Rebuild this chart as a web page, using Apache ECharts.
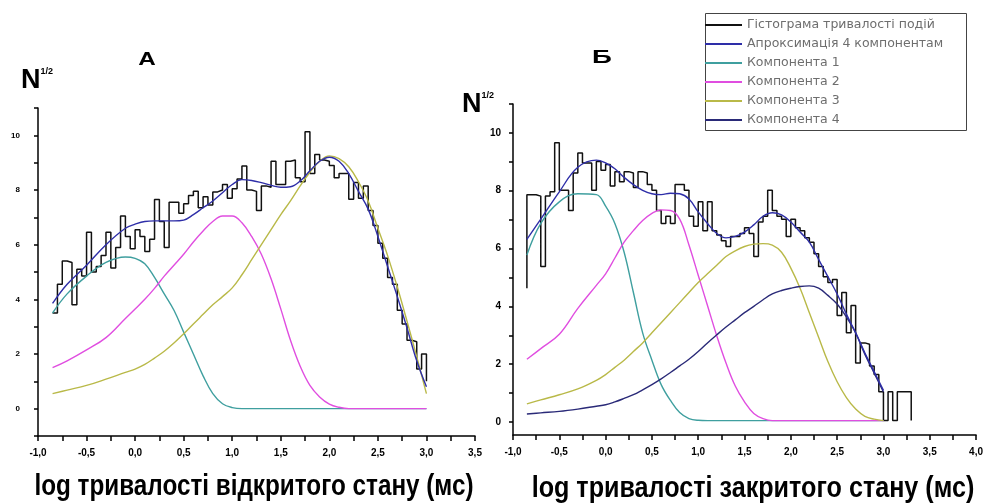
<!DOCTYPE html>
<html>
<head>
<meta charset="utf-8">
<script src="https://cdn.jsdelivr.net/npm/echarts@6/dist/echarts.min.js"></script>
<style>html,body{margin:0;padding:0;background:#fff}#c{width:986px;height:504px}</style>
</head>
<body>
<div id="c"></div>
<script>
// ---------- data ----------
const legendNames = ['Гістограма тривалості подій', 'Апроксимація 4 компонентам', 'Компонента 1', 'Компонента 2', 'Компонента 3', 'Компонента 4'];
const binWidth = 0.05;

// Panel A (open state)
const histA_start = -0.85;
const histA_endLevel = 1.0;
const histA = [3.5,4.55,5.4,5.35,3.8,5.1,4.85,6.45,5.0,5.2,
  5.6,6.45,5.15,5.9,7.05,6.3,5.85,6.55,6.3,5.75,
  6.2,7.65,6.85,5.9,7.55,7.55,7.15,7.5,7.8,7.95,
  7.35,7.75,7.45,7.93,8.0,8.2,7.7,8.05,8.4,8.88,
  8.0,7.95,7.25,8.15,8.1,9.05,8.2,8.2,9.05,9.1,
  8.45,8.3,10.13,8.6,9.3,9.1,9.05,8.9,8.45,8.6,
  8.6,7.66,8.27,7.7,8.15,7.25,6.7,6.05,5.5,4.8,
  4.55,3.6,3.1,2.5,2.45,1.45,2.0];
const curveX = [-0.85,-0.7,-0.5,-0.3,-0.1,0,0.1,0.2,0.3,0.4,0.5,0.6,0.7,0.8,0.9,1.0,1.1,1.2,1.3,1.4,1.5,1.6,1.7,1.8,1.9,2.0,2.1,2.2,2.3,2.4,2.5,2.6,2.7,2.8,2.9,3.0];
const approxA = [3.85,4.55,5.25,6.0,6.6,6.75,6.85,6.87,6.87,6.87,6.9,7.1,7.35,7.6,7.9,8.2,8.38,8.35,8.27,8.17,8.1,8.12,8.33,8.7,9.05,9.2,9.05,8.6,7.95,7.3,6.3,5.2,4.1,2.95,1.75,0.8];
const comp1A = [3.5,4.2,4.85,5.35,5.55,5.5,5.3,4.8,4.2,3.6,2.8,2.0,1.2,0.55,0.18,0.04,0,0,0,0,0,0,0,0,0,0,0,0,0,0,0,0,0,0,0,0];
const comp2A = [1.5,1.75,2.15,2.6,3.3,3.65,4.0,4.4,4.85,5.25,5.65,6.1,6.5,6.85,7.05,7.05,6.8,6.3,5.65,4.75,3.65,2.5,1.55,0.85,0.43,0.17,0.05,0,0,0,0,0,0,0,0,0];
const comp3A = [0.55,0.68,0.85,1.08,1.33,1.45,1.62,1.85,2.1,2.4,2.74,3.1,3.45,3.8,4.1,4.42,4.9,5.45,6.0,6.55,7.1,7.6,8.15,8.65,9.05,9.25,9.15,8.85,8.3,7.6,6.6,5.6,4.45,3.2,1.9,0.55];

// Panel B (closed state)
const histB_start = -0.85;
const histB_startLevel = 4.6;
const histB_endLevel = 0;
const histB = [7.85,7.85,7.8,5.35,7.8,7.95,9.65,8.0,8.0,7.3,
  8.6,9.3,8.95,8.95,8.0,9.0,8.7,8.9,8.15,8.65,
  8.3,8.65,8.6,8.1,8.65,8.6,8.2,8.0,7.3,6.85,
  7.1,6.85,8.2,8.2,8.0,7.1,6.75,7.6,6.6,7.6,
  6.6,6.45,6.25,6.05,6.4,6.4,6.5,6.7,6.5,5.7,
  6.9,7.1,8.0,7.3,7.1,7.0,6.4,7.0,6.7,6.6,
  6.35,6.2,5.8,5.35,5.0,4.8,4.9,3.65,4.45,3.05,
  4.0,2.0,2.7,2.65,1.9,1.6,1.0,0,1.0,0,
  1.0,1.0,1.0];
const approxB = [6.3,7.0,7.95,8.8,9.05,8.95,8.75,8.45,8.2,8.0,7.88,7.85,7.9,7.88,7.7,7.25,6.85,6.5,6.35,6.4,6.55,6.8,7.1,7.22,7.15,6.9,6.55,6.2,5.6,5.0,4.4,3.7,3.05,2.35,1.7,1.05];
const comp1B = [5.75,6.85,7.6,7.88,7.85,7.45,6.85,5.85,4.45,3.05,2.1,1.25,0.7,0.28,0.07,0.01,0,0,0,0,0,0,0,0,0,0,0,0,0,0,0,0,0,0,0,0];
const comp2B = [2.13,2.5,3.0,3.9,4.7,5.1,5.65,6.2,6.6,6.95,7.2,7.32,7.3,7.0,6.1,5.05,4.0,2.95,2.0,1.2,0.65,0.25,0.07,0,0,0,0,0,0,0,0,0,0,0,0,0];
const comp3B = [0.58,0.72,0.9,1.1,1.4,1.6,1.85,2.1,2.4,2.7,3.05,3.4,3.75,4.1,4.45,4.8,5.1,5.4,5.7,5.9,6.05,6.13,6.15,6.1,5.85,5.3,4.6,3.75,2.9,2.05,1.35,0.8,0.4,0.15,0.05,0];
const comp4B = [0.23,0.27,0.32,0.4,0.5,0.55,0.65,0.77,0.9,1.07,1.25,1.45,1.67,1.9,2.13,2.4,2.7,2.98,3.25,3.5,3.75,3.97,4.2,4.4,4.52,4.6,4.66,4.68,4.6,4.35,4.05,3.6,3.05,2.3,1.65,1.0];

// ---------- helpers ----------
function stepData(start, vals, startLevel, endLevel) {
  const d = [];
  if (startLevel !== null) d.push([start, startLevel]);
  vals.forEach((v, i) => d.push([+(start + i * binWidth).toFixed(3), v]));
  const end = +(start + vals.length * binWidth).toFixed(3);
  d.push([end, vals[vals.length - 1]]);
  if (endLevel !== null) d.push([end, endLevel]);
  return d;
}
const pairs = (xs, ys) => xs.map((x, i) => [x, ys[i]]);

const COL = { hist: '#111111', approx: '#2e2ea8', c1: '#3f9f9f', c2: '#e04ee0', c3: '#b9b948', c4: '#2a2a78' };
const SANS = "'Liberation Sans',Arial,sans-serif";

function curve(name, color, xs, ys, xi, yi, z) {
  return { name, type: 'line', xAxisIndex: xi, yAxisIndex: yi, data: pairs(xs, ys), smooth: 0.4,
    symbol: 'none', lineStyle: { color, width: 1.4 }, itemStyle: { color }, z: z || 3 };
}
function histSeries(d, xi, yi) {
  return { name: legendNames[0], type: 'line', step: 'end', xAxisIndex: xi, yAxisIndex: yi, data: d,
    symbol: 'none', lineStyle: { color: COL.hist, width: 1.5 }, itemStyle: { color: COL.hist }, z: 2 };
}

const xLabel = v => (Math.abs(v) < 1e-9 ? 0 : v).toFixed(1).replace('.', ',');
const yLabel = v => (v >= 0 && v <= 10 && Math.round(v) % 2 === 0) ? String(Math.round(v)) : '';

const axisLine = { show: true, onZero: false, lineStyle: { color: '#000', width: 1.5 } };
const xLab = { formatter: xLabel, fontSize: 10, fontWeight: 'bold', color: '#000', margin: 12, fontFamily: SANS };

const chart = echarts.init(document.getElementById('c'));
chart.setOption({
  animation: false,
  backgroundColor: '#fff',
  grid: [
    { left: 38, right: 511, top: 108, bottom: 68 },
    { left: 513, right: 8, top: 104, bottom: 69 },
    { left: 513, right: 8, top: 104, bottom: 82 }
  ],
  xAxis: [
    { gridIndex: 0, type: 'value', min: -1, max: 3.5, interval: 0.5, axisLine,
      axisTick: { length: 5, lineStyle: { width: 1.5 } }, minorTick: { show: true, splitNumber: 2, length: 5, lineStyle: { color: '#000', width: 1.5 } },
      splitLine: { show: false }, axisLabel: xLab },
    { gridIndex: 1, type: 'value', min: -1, max: 4, interval: 0.5, axisLine,
      axisTick: { length: 5, lineStyle: { width: 1.5 } }, minorTick: { show: true, splitNumber: 2, length: 5, lineStyle: { color: '#000', width: 1.5 } },
      splitLine: { show: false }, axisLabel: xLab },
    { gridIndex: 2, type: 'value', min: -1, max: 4, show: false }
  ],
  yAxis: [
    { gridIndex: 0, type: 'value', min: -1, max: 11, interval: 1, axisLine,
      axisTick: { length: 4, lineStyle: { width: 1.5 } }, splitLine: { show: false },
      axisLabel: { formatter: yLabel, fontSize: 8, fontWeight: 'bold', color: '#000', margin: 18, fontFamily: SANS } },
    { gridIndex: 1, type: 'value', min: -0.5, max: 11, axisLine,
      axisTick: { show: false }, axisLabel: { show: false }, splitLine: { show: false } },
    { gridIndex: 2, type: 'value', min: 0, max: 11, interval: 1, axisLine: { show: false, onZero: false },
      axisTick: { show: true, length: 4, lineStyle: { color: '#000', width: 1.5 } }, splitLine: { show: false },
      axisLabel: { formatter: yLabel, fontSize: 10, fontWeight: 'bold', color: '#000', margin: 12, fontFamily: SANS } }
  ],
  legend: {
    orient: 'vertical', left: 705, top: 13, padding: [5, 2, 4, 0], itemGap: 5, itemWidth: 37, itemHeight: 2, icon: 'rect',
    selectedMode: false,
    textStyle: { fontSize: 12.5, lineHeight: 14, color: '#6e6e6e', fontFamily: "'DejaVu Sans',sans-serif" },
    data: legendNames
  },
  title: [
    { text: '{n|N}{s|1/2}', left: 16, top: 62, textStyle: { rich: {
        n: { fontSize: 27, fontWeight: 'bold', color: '#000', fontFamily: SANS },
        s: { fontSize: 9, fontWeight: 'bold', color: '#000', verticalAlign: 'top', fontFamily: SANS } } } },
    { text: '{n|N}{s|1/2}', left: 457, top: 86, textStyle: { rich: {
        n: { fontSize: 27, fontWeight: 'bold', color: '#000', fontFamily: SANS },
        s: { fontSize: 9, fontWeight: 'bold', color: '#000', verticalAlign: 'top', fontFamily: SANS } } } }
  ],
  graphic: [
    { type: 'rect', left: 705, top: 13, z: -1, shape: { width: 261, height: 117 }, style: { fill: '#fff', stroke: '#444', lineWidth: 1 } },
    { type: 'text', x: 147, y: 60, scaleX: 1.35, style: { text: 'А', font: "bold 18px " + SANS, fill: '#000', textAlign: 'center', textVerticalAlign: 'middle' } },
    { type: 'text', x: 602, y: 58, scaleX: 1.45, style: { text: 'Б', font: "bold 19px " + SANS, fill: '#000', textAlign: 'center', textVerticalAlign: 'middle' } },
    { type: 'text', x: 254, y: 487, scaleX: 0.837, style: { text: 'log тривалості відкритого стану (мс)', font: "bold 29px " + SANS, fill: '#000', textAlign: 'center', textVerticalAlign: 'middle' } },
    { type: 'text', x: 753, y: 489, scaleX: 0.867, style: { text: 'log тривалості закритого стану (мс)', font: "bold 29px " + SANS, fill: '#000', textAlign: 'center', textVerticalAlign: 'middle' } }
  ],
  series: [
    histSeries(stepData(histA_start, histA, null, histA_endLevel), 0, 0),
    curve(legendNames[1], COL.approx, curveX, approxA, 0, 0, 5),
    curve(legendNames[2], COL.c1, curveX, comp1A, 0, 0),
    curve(legendNames[3], COL.c2, curveX, comp2A, 0, 0),
    curve(legendNames[4], COL.c3, curveX, comp3A, 0, 0),
    histSeries(stepData(histB_start, histB, histB_startLevel, histB_endLevel), 1, 1),
    curve(legendNames[1], COL.approx, curveX, approxB, 1, 1, 5),
    curve(legendNames[2], COL.c1, curveX, comp1B, 1, 1),
    curve(legendNames[3], COL.c2, curveX, comp2B, 1, 1),
    curve(legendNames[4], COL.c3, curveX, comp3B, 1, 1),
    curve(legendNames[5], COL.c4, curveX, comp4B, 1, 1)
  ]
});
</script>
</body>
</html>
